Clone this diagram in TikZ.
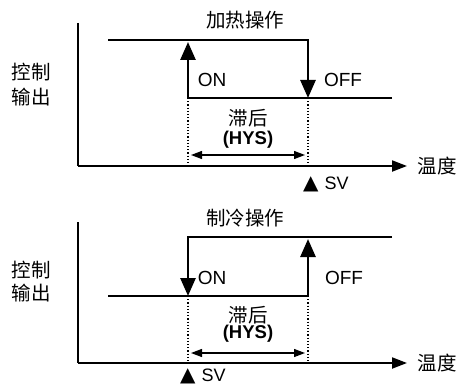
\documentclass[tikz,border=0pt]{standalone}
\usepackage{fontspec}
\setmainfont{Liberation Sans}
\newfontfamily\cjk{Noto Sans CJK SC}
\newfontfamily\dejavu{DejaVu Sans}
\usetikzlibrary{arrows.meta}
\begin{document}
\begin{tikzpicture}[x=1pt,y=-1pt,
  axisline/.style={line width=2pt,-{Triangle[length=15pt,width=11pt]}},
  axisplain/.style={line width=2pt},
  curve/.style={line width=2.7pt,-{Triangle[length=18pt,width=15pt]}},
  guide/.style={line width=1.2pt,dotted},
  span/.style={line width=1.3pt,{Triangle[length=11pt,width=8pt]}-{Triangle[length=11pt,width=8pt]}},
  cjklabel/.style={font=\cjk\fontsize{19.5}{22}\selectfont,inner sep=0pt},
  latlabel/.style={font=\fontsize{19}{21}\selectfont,inner sep=0pt},
  hyslabel/.style={font=\bfseries\fontsize{18.5}{20}\selectfont,inner sep=0pt},
  svlabel/.style={font=\fontsize{18}{20}\selectfont,inner sep=0pt}]
\useasboundingbox (0,0) rectangle (460,385);
% ---------- top: heating ----------
\coordinate (ta) at (78,23);
\coordinate (to) at (78,166);
\coordinate (tx) at (407,166);
\draw[axisplain] (ta) -- (to);
\draw[axisline] (to) -- (tx);
\coordinate (th0) at (108,40);
\coordinate (th1) at (308,40);
\coordinate (th2) at (308,98);
\coordinate (tl0) at (392,98);
\coordinate (tl1) at (188,98);
\coordinate (tl2) at (188,42);
\draw[curve] (th0) -- (th1) -- (th2);
\draw[curve] (tl0) -- (tl1) -- (tl2);
\coordinate (td1) at (188,166);
\coordinate (td2) at (308,166);
\draw[guide] (tl1) -- (td1);
\draw[guide] (th2) -- (td2);
\coordinate (ts1) at (191,155);
\coordinate (ts2) at (305,155);
\draw[span] (ts1) -- (ts2);
\node[cjklabel] (ttitle) at (245,20) {加热操作};
\node[cjklabel] (ty1) at (31,72) {控制};
\node[cjklabel] (ty2) at (31,97) {输出};
\node[latlabel] (ton) at (212,80) {ON};
\node[latlabel] (toff) at (343,80) {OFF};
\node[cjklabel] (thy1) at (248,118) {滞后};
\node[hyslabel] (thy2) at (248,140) {(HYS)};
\node[cjklabel] (ttemp) at (437,166) {温度};
\node[svlabel,anchor=west] (tsv) at (303,184) {{\dejavu\fontsize{20}{22}\selectfont ▲}\hspace{6pt}SV};
% ---------- bottom: cooling ----------
\coordinate (ba) at (78,222);
\coordinate (bo) at (78,363);
\coordinate (bx) at (407,363);
\draw[axisplain] (ba) -- (bo);
\draw[axisline] (bo) -- (bx);
\coordinate (bh0) at (392,237);
\coordinate (bh1) at (188,237);
\coordinate (bh2) at (188,296);
\coordinate (bl0) at (108,296);
\coordinate (bl1) at (308,296);
\coordinate (bl2) at (308,239);
\draw[curve] (bh0) -- (bh1) -- (bh2);
\draw[curve] (bl0) -- (bl1) -- (bl2);
\coordinate (bd1) at (188,363);
\coordinate (bd2) at (308,363);
\draw[guide] (bh2) -- (bd1);
\draw[guide] (bl1) -- (bd2);
\coordinate (bs1) at (191,353);
\coordinate (bs2) at (305,353);
\draw[span] (bs1) -- (bs2);
\node[cjklabel] (btitle) at (245,218) {制冷操作};
\node[cjklabel] (by1) at (31,270) {控制};
\node[cjklabel] (by2) at (31,293) {输出};
\node[latlabel] (bon) at (212,278) {ON};
\node[latlabel] (boff) at (344,278) {OFF};
\node[cjklabel] (bhy1) at (248,315) {滞后};
\node[hyslabel] (bhy2) at (248,334) {(HYS)};
\node[cjklabel] (btemp) at (437,363) {温度};
\node[svlabel,anchor=west] (bsv) at (180,376) {{\dejavu\fontsize{20}{22}\selectfont ▲}\hspace{6pt}SV};
\end{tikzpicture}
\end{document}
